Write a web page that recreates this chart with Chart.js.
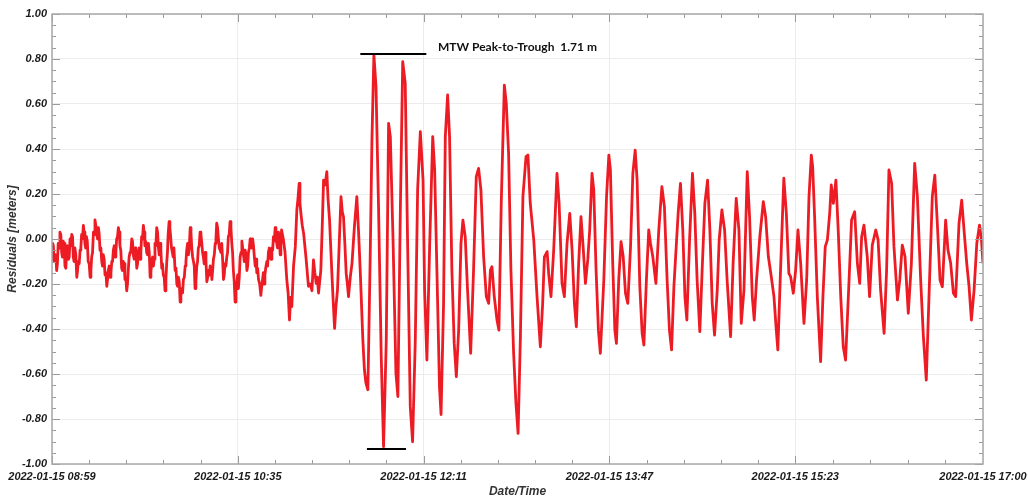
<!DOCTYPE html>
<html>
<head>
<meta charset="utf-8">
<script src="https://cdn.jsdelivr.net/npm/chart.js@4/dist/chart.umd.min.js"></script>
<style>
  html, body { margin: 0; padding: 0; background: #fff; }
  #wrap { width: 1028px; height: 499px; }
</style>
</head>
<body>
<div id="wrap"><canvas id="chart"></canvas></div>
<script>
// x axis: minutes after 2022-01-15 08:59
const tickMinutes = [0, 96, 192, 288, 384, 481];
const tickLabels = [
  "2022-01-15 08:59", "2022-01-15 10:35", "2022-01-15 12:11",
  "2022-01-15 13:47", "2022-01-15 15:23", "2022-01-15 17:00"
];

// residual trace (minutes, meters)
const minutes = [
  0, 0.35, 0.7, 1.1, 1.5, 1.95, 2.4, 2.8, 3.2, 3.65,
  4.1, 4.55, 5.0, 5.4, 5.8, 6.25, 6.7, 7.15, 7.6, 8.05,
  8.5, 8.9, 9.3, 9.75, 10.2, 10.6, 11.0, 11.4, 11.8, 12.3,
  12.8, 13.2, 13.6, 14.05, 14.5, 14.9, 15.3, 15.75, 16.2, 16.6,
  17.0, 17.4, 17.8, 18.25, 18.7, 19.2, 19.7, 20.1, 20.5, 20.95,
  21.4, 21.8, 22.2, 22.65, 23.1, 23.55, 24.0, 24.4, 24.8, 25.25,
  25.7, 26.1, 26.5, 26.95, 27.4, 27.85, 28.3, 28.7, 29.1, 29.55,
  30.0, 30.45, 30.9, 31.3, 31.7, 32.15, 32.6, 33.0, 33.4, 33.85,
  34.3, 34.7, 35.1, 35.55, 36.0, 36.4, 36.8, 37.25, 37.7, 38.15,
  38.6, 39.0, 39.4, 39.85, 40.3, 40.75, 41.2, 41.6, 42.0, 42.45,
  42.9, 43.35, 43.8, 44.2, 44.6, 45.05, 45.5, 45.9, 46.3, 46.75,
  47.2, 47.6, 48.0, 48.45, 48.9, 49.35, 49.8, 50.25, 50.7, 51.1,
  51.5, 51.95, 52.4, 52.8, 53.2, 53.65, 54.1, 54.55, 55.0, 55.4,
  55.8, 56.25, 56.7, 57.1, 57.5, 57.95, 58.4, 58.85, 59.3, 59.65,
  60.0, 60.5, 60.9, 61.3, 61.75, 62.2, 62.6, 63.0, 63.6, 64.05,
  64.5, 64.9, 65.3, 65.75, 66.2, 66.6, 67.0, 67.45, 67.9, 68.35,
  68.8, 69.2, 69.6, 70.05, 70.5, 70.95, 71.4, 71.8, 72.2, 72.65,
  73.1, 73.5, 73.9, 74.35, 74.8, 75.2, 75.6, 76.05, 76.5, 76.95,
  77.4, 77.8, 78.2, 78.65, 79.1, 79.55, 80.0, 80.45, 80.9, 81.3,
  81.7, 82.15, 82.6, 83.0, 83.4, 83.85, 84.3, 84.7, 85.1, 85.55,
  86.0, 86.45, 86.9, 87.3, 87.7, 88.15, 88.6, 89.0, 89.4, 89.85,
  90.3, 90.7, 91.1, 91.55, 92.0, 92.45, 92.9, 93.3, 93.7, 94.15,
  94.6, 95.05, 95.5, 95.9, 96.3, 96.75, 97.2, 97.65, 98.1, 98.5,
  98.9, 99.35, 99.8, 100.25, 100.7, 101.1, 101.5, 101.95, 102.4, 102.8,
  103.2, 103.65, 104.1, 104.55, 105.0, 105.4, 105.8, 106.25, 106.7, 107.3,
  107.9, 108.35, 108.8, 109.2, 109.6, 110.0, 110.4, 111.0, 111.4, 111.8,
  112.25, 112.7, 113.15, 113.6, 114.0, 114.4, 114.85, 115.3, 115.7, 116.1,
  116.55, 117.0, 117.45, 117.9, 118.25, 118.6,
  119.6, 120.4, 121.3, 122.0, 122.7, 123.3, 123.9, 124.8, 125.7, 126.5,
  127.1, 127.7, 128.1, 128.6, 129.3, 130.0, 131.2, 132.5, 133.4, 134.3,
  135.1, 135.8, 136.5, 137.1, 137.7, 138.9, 139.6, 140.3, 141.1, 142.0,
  142.6, 143.4, 144.6, 145.3, 146.0, 146.7, 147.5, 148.4, 149.3, 150.0,
  150.6, 151.3, 152.0, 152.6, 153.2, 154.1, 155.0, 156.2, 157.5, 158.4,
  159.3, 160.6, 161.4, 162.2, 163.2, 164.4, 165.3, 166.3, 167.4, 168.7,
  170.1, 171.3, 172.7, 173.9, 174.8, 176.2, 177.7, 178.7, 180.0, 181.2,
  182.5, 183.7, 185.1, 186.3, 187.7, 188.9, 190.3, 191.7, 192.5, 193.7,
  195.1, 196.7, 197.7, 198.9, 200.2, 201.0, 202.3, 203.2, 204.4, 205.4,
  206.6, 207.8, 208.9, 210.1, 211.3, 212.3, 213.5, 214.7, 216.3, 217.8,
  219.2, 220.4, 221.6, 223.0, 224.4, 225.6, 226.5, 227.3, 228.5, 229.9,
  230.9, 232.1, 233.7, 234.7, 235.9, 237.1, 238.5, 239.7, 240.8, 242.0,
  243.3, 244.9, 245.9, 247.1, 248.9, 250.6, 252.3, 253.5, 254.4, 255.8,
  256.6, 257.8, 259.2, 260.9, 262.0, 263.5, 264.7, 266.1, 267.5, 268.7,
  269.9, 270.9, 272.1, 273.3, 274.4, 275.6, 276.8, 277.8, 279.0, 279.9,
  281.1, 282.3, 283.3, 285.1, 286.5, 287.7, 288.5, 289.7, 290.8, 291.6,
  292.8, 294.0, 295.1, 296.3, 297.5, 298.9, 300.1, 301.3, 302.3, 303.7,
  304.9, 305.8, 307.1, 308.3, 309.2, 310.4, 312.0, 313.5, 315.1, 316.4,
  317.8, 319.0, 320.1, 321.3, 322.6, 323.5, 324.7, 325.9, 327.0, 328.0,
  329.4, 330.9, 332.1, 333.3, 334.7, 335.9, 337.3, 338.7, 339.9, 341.1,
  342.3, 343.7, 344.7, 346.1, 347.5, 348.8, 350.6, 351.9, 353.5, 354.9,
  356.1, 357.5, 359.2, 360.4, 361.8, 362.8, 364.0, 365.7, 367.5, 368.7,
  370.1, 371.6, 373.0, 374.2, 375.0, 376.4, 378.1, 379.4, 380.7, 381.6,
  383.0, 384.2, 385.4, 386.8, 388.5, 389.9, 391.1, 392.3, 393.0, 394.0,
  395.4, 397.1, 398.3, 399.5, 400.6, 401.8, 402.6, 403.7, 405.0, 406.2,
  407.5, 408.8, 410.0, 411.8, 413.1, 414.7, 416.1, 417.3, 418.3, 419.5,
  421.2, 422.4, 423.8, 425.6, 426.8, 428.1, 429.9, 431.2, 432.4, 433.8,
  435.0, 436.8, 438.0, 439.3, 440.7, 442.4, 444.0, 445.7, 447.1, 448.8,
  450.2, 451.7, 453.1, 454.8, 456.1, 457.4, 458.8, 460.0, 461.7, 462.9,
  464.3, 465.7, 466.9, 468.6, 470.0, 471.2, 472.6, 473.8, 475.0, 476.4,
  477.8, 479.2, 480.2, 481.0
];
const residuals = [
  -0.09, -0.02, -0.03, -0.10, -0.10, -0.07, -0.14, -0.11, -0.02, -0.04,
  0.03, 0.02, -0.06, -0.08, -0.01, -0.02, -0.12, -0.13, -0.05, -0.03,
  -0.09, -0.08, 0.00, -0.03, 0.02, 0.01, -0.08, -0.10, -0.04, -0.07,
  -0.17, -0.14, -0.10, -0.11, -0.05, -0.04, 0.02, 0.00, 0.06, 0.03,
  -0.02, -0.04, 0.01, -0.01, -0.10, -0.11, -0.17, -0.14, -0.08, -0.06,
  0.03, 0.02, 0.085, 0.06, 0.02, 0.00, 0.05, 0.02, -0.05, -0.04,
  -0.10, -0.12, -0.07, -0.09, -0.16, -0.15, -0.21, -0.18, -0.14, -0.12,
  -0.17, -0.15, -0.10, -0.10, -0.05, -0.03, -0.08, -0.06, 0.00, 0.01,
  0.05, 0.03, -0.03, -0.05, -0.13, -0.14, -0.10, -0.11, -0.18, -0.17,
  -0.23, -0.20, -0.14, -0.08, -0.06, -0.05, 0.00, -0.01, -0.07, -0.09,
  -0.04, -0.06, -0.13, -0.11, -0.06, -0.04, -0.09, -0.06, 0.01, 0.00,
  0.06, 0.03, -0.03, -0.01, -0.06, -0.07, -0.02, -0.06, -0.17, -0.15,
  -0.10, -0.08, -0.12, -0.09, -0.02, -0.03, 0.05, 0.03, -0.04, -0.07,
  -0.02, -0.05, -0.13, -0.11, -0.16, -0.17, -0.23, -0.18, -0.10, -0.06,
  0.02, 0.077, 0.05, 0.01, -0.04, -0.06, -0.08, -0.04, -0.14, -0.13,
  -0.20, -0.21, -0.17, -0.19, -0.28, -0.25, -0.22, -0.24, -0.18, -0.17,
  -0.12, -0.10, -0.05, -0.02, -0.07, -0.03, 0.05, 0.03, -0.04, -0.08,
  -0.10, -0.12, -0.22, -0.19, -0.12, -0.10, -0.04, -0.03, 0.03, 0.02,
  -0.02, -0.06, -0.08, -0.11, -0.06, -0.10, -0.19, -0.17, -0.14, -0.16,
  -0.12, -0.13, -0.18, -0.14, -0.09, -0.07, -0.02, 0.00, 0.07, 0.05,
  0.00, -0.04, -0.05, -0.06, -0.02, -0.09, -0.18, -0.16, -0.11, -0.12,
  -0.08, -0.06, 0.01, 0.02, 0.077, 0.05, -0.02, -0.06, -0.14, -0.19,
  -0.28, -0.22, -0.20, -0.16, -0.22, -0.17, -0.08, -0.06, -0.01, -0.04,
  -0.07, -0.10, -0.05, -0.07, -0.14, -0.12, -0.06, -0.04, 0.00, -0.03,
  -0.04, 0.00, -0.03, -0.08, -0.12, -0.09, -0.15, -0.13, -0.18, -0.20,
  -0.25, -0.21, -0.18, -0.15, -0.20, -0.16, -0.13, -0.10, -0.12, -0.06,
  -0.04, -0.08, -0.09, -0.04, -0.05, 0.01, -0.01, 0.05, 0.02, -0.02,
  -0.04, 0.03, 0.00, -0.07, -0.03, 0.04,
  -0.005, -0.06, -0.18, -0.24, -0.36, -0.26, -0.30, -0.12, -0.034, 0.129,
  0.18, 0.247, 0.16, 0.114, 0.06, 0.025, -0.08, -0.21, -0.20, -0.23,
  -0.093, -0.15, -0.197, -0.17, -0.24, -0.138, 0.05, 0.262, 0.24, 0.299,
  0.18, 0.084, -0.153, -0.28, -0.397, -0.30, -0.227, -0.02, 0.188, 0.12,
  0.099, -0.02, -0.153, -0.20, -0.256, -0.17, -0.108, 0.05, 0.188, 0.03,
  -0.153, -0.449, -0.58, -0.641, -0.67, -0.078, 0.44, 0.818, 0.677, 0.144,
  -0.523, -0.923, -0.449, 0.514, 0.455, -0.004, -0.597, -0.70, 0.144, 0.788,
  0.692, -0.004, -0.745, -0.901, -0.449, 0.218, 0.477, 0.262, -0.227, -0.538,
  -0.034, 0.455, 0.307, -0.153, -0.66, -0.78, -0.286, 0.455, 0.64, 0.455,
  -0.138, -0.464, -0.612, -0.405, -0.019, 0.084, 0.01, -0.227, -0.508, -0.138,
  0.277, 0.314, 0.218, -0.079, -0.256, -0.286, -0.138, -0.123, -0.256, -0.36,
  -0.405, 0.158, 0.684, 0.603, 0.381, -0.138, -0.508, -0.73, -0.864, -0.434,
  0.188, 0.366, 0.373, 0.158, -0.004, -0.256, -0.479, -0.286, -0.079, -0.056,
  -0.153, -0.256, -0.049, 0.292, 0.158, -0.197, -0.256, -0.019, 0.114, -0.049,
  -0.286, -0.39, -0.108, 0.099, -0.034, -0.197, -0.093, 0.04, 0.292, 0.218,
  -0.138, -0.405, -0.508, -0.182, 0.188, 0.373, 0.307, -0.108, -0.405, -0.464,
  -0.182, -0.012, -0.078, -0.241, -0.286, -0.034, 0.292, 0.395, 0.262, -0.212,
  -0.419, -0.471, -0.182, 0.04, -0.019, -0.078, -0.197, 0.04, 0.233, 0.144,
  -0.182, -0.405, -0.493, -0.212, -0.019, 0.114, 0.247, 0.04, -0.256, -0.36,
  -0.004, 0.292, 0.114, -0.182, -0.412, -0.138, 0.158, 0.262, 0.04, -0.286,
  -0.427, -0.227, -0.004, 0.129, 0.04, -0.182, -0.434, -0.108, 0.18, 0.04,
  -0.375, -0.227, 0.299, 0.099, -0.256, -0.36, -0.182, 0.01, 0.166, 0.099,
  -0.078, -0.167, -0.256, -0.405, -0.493, -0.138, 0.27, 0.114, -0.153, -0.167,
  -0.241, -0.138, 0.04, -0.108, -0.375, -0.182, 0.188, 0.373, 0.321, 0.099,
  -0.256, -0.545, -0.256, -0.034, -0.004, 0.114, 0.24, 0.158, 0.262, 0.04,
  -0.256, -0.479, -0.538, -0.182, 0.084, 0.121, -0.108, -0.197, 0.01, 0.062,
  -0.078, -0.256, -0.027, 0.04, -0.004, -0.227, -0.419, -0.138, 0.307, 0.247,
  -0.034, -0.271, -0.182, -0.027, -0.078, -0.33, -0.108, 0.336, 0.188, -0.182,
  -0.434, -0.627, -0.256, 0.188, 0.284, 0.069, -0.182, -0.212, 0.084, -0.049,
  -0.108, -0.241, -0.256, 0.069, 0.173, 0.04, -0.108, -0.212, -0.36, -0.227,
  -0.019, 0.062, -0.004, -0.108
];

// peak-to-trough marker
const peakLevel = 0.822;
const troughLevel = -0.933;
const peakSpan = [159.3, 193.4];
const troughSpan = [162.7, 182.9];
const noteText = "MTW Peak-to-Trough  1.71 m";
const notePos = [199.4, 0.853];

const LABEL_FONT = { family: "'Liberation Sans', Arial, sans-serif", size: 11, weight: "bold", style: "italic" };
const TITLE_FONT = { family: "'Liberation Sans', Arial, sans-serif", size: 12, weight: "bold", style: "italic" };

const points = minutes.map((m, i) => ({ x: m, y: residuals[i] }));

const framePlugin = {
  id: "frame",
  afterDatasetsDraw(chart) {
    const { ctx, chartArea: a, scales } = chart;
    const x = scales.x, y = scales.y;
    ctx.save();

    // inward ticks
    ctx.strokeStyle = "#9a9a9a";
    ctx.lineWidth = 1;
    ctx.beginPath();
    for (let i = 0; i < tickMinutes.length - 1; i++) {
      const step = (tickMinutes[i + 1] - tickMinutes[i]) / 5;
      for (let k = 0; k < 5; k++) {
        const px = Math.round(x.getPixelForValue(tickMinutes[i] + k * step)) + 0.5;
        const len = k === 0 ? 8 : 4;
        ctx.moveTo(px, a.bottom); ctx.lineTo(px, a.bottom - len);
        ctx.moveTo(px, a.top); ctx.lineTo(px, a.top + len);
      }
    }
    for (let k = 0; k <= 40; k++) {
      const v = -1 + k * 0.05;
      const py = Math.round(y.getPixelForValue(v)) + 0.5;
      const len = k % 4 === 0 ? 8 : 4;
      ctx.moveTo(a.left, py); ctx.lineTo(a.left + len, py);
      ctx.moveTo(a.right, py); ctx.lineTo(a.right - len, py);
    }
    ctx.stroke();

    // frame
    ctx.strokeStyle = "#a8a8a8";
    ctx.lineWidth = 1.5;
    ctx.strokeRect(a.left, a.top, a.right - a.left, a.bottom - a.top);

    // peak / trough bars
    ctx.strokeStyle = "#000";
    ctx.lineWidth = 2;
    ctx.beginPath();
    const yp = y.getPixelForValue(peakLevel);
    ctx.moveTo(x.getPixelForValue(peakSpan[0]), yp);
    ctx.lineTo(x.getPixelForValue(peakSpan[1]), yp);
    const yt = y.getPixelForValue(troughLevel);
    ctx.moveTo(x.getPixelForValue(troughSpan[0]), yt);
    ctx.lineTo(x.getPixelForValue(troughSpan[1]), yt);
    ctx.stroke();

    ctx.fillStyle = "#111";
    ctx.font = "bold 12px Lato, 'Noto Sans', sans-serif";
    ctx.textAlign = "left";
    ctx.textBaseline = "middle";
    ctx.fillText(noteText, x.getPixelForValue(notePos[0]), y.getPixelForValue(notePos[1]));
    ctx.restore();
  }
};

new Chart(document.getElementById("chart"), {
  type: "line",
  data: {
    datasets: [{
      data: points,
      borderColor: "#ED1C24",
      borderWidth: 2.8,
      pointRadius: 0,
      tension: 0,
      borderJoinStyle: "round",
      fill: false
    }]
  },
  options: {
    animation: false,
    responsive: true,
    maintainAspectRatio: false,
    parsing: false,
    layout: { padding: { left: 0, top: 14, right: 45, bottom: 0 } },
    plugins: {
      legend: { display: false },
      tooltip: { enabled: false }
    },
    scales: {
      x: {
        type: "linear",
        min: 0,
        max: 481,
        afterBuildTicks: (s) => { s.ticks = tickMinutes.map(v => ({ value: v })); },
        afterFit: (s) => { s.height = 35; s.paddingLeft = 0; s.paddingRight = 0; },
        ticks: {
          autoSkip: false,
          maxRotation: 0,
          padding: 6,
          color: "#1a1a1a",
          font: LABEL_FONT,
          callback: (v) => tickLabels[tickMinutes.indexOf(v)]
        },
        grid: { color: "#ececec", drawTicks: false },
        border: { display: false },
        title: {
          display: true,
          text: "Date/Time",
          color: "#333",
          font: TITLE_FONT,
          padding: { top: 2, bottom: 0 }
        }
      },
      y: {
        min: -1,
        max: 1,
        afterFit: (s) => { s.width = 52; },
        ticks: {
          stepSize: 0.2,
          padding: 5,
          color: "#1a1a1a",
          font: LABEL_FONT,
          callback: (v) => Number(v).toFixed(2)
        },
        grid: { color: "#ececec", drawTicks: false },
        border: { display: false },
        title: {
          display: true,
          text: "Residuals [meters]",
          color: "#333",
          font: TITLE_FONT,
          padding: { top: 5, bottom: 0 }
        }
      }
    }
  },
  plugins: [framePlugin]
});
</script>
</body>
</html>
